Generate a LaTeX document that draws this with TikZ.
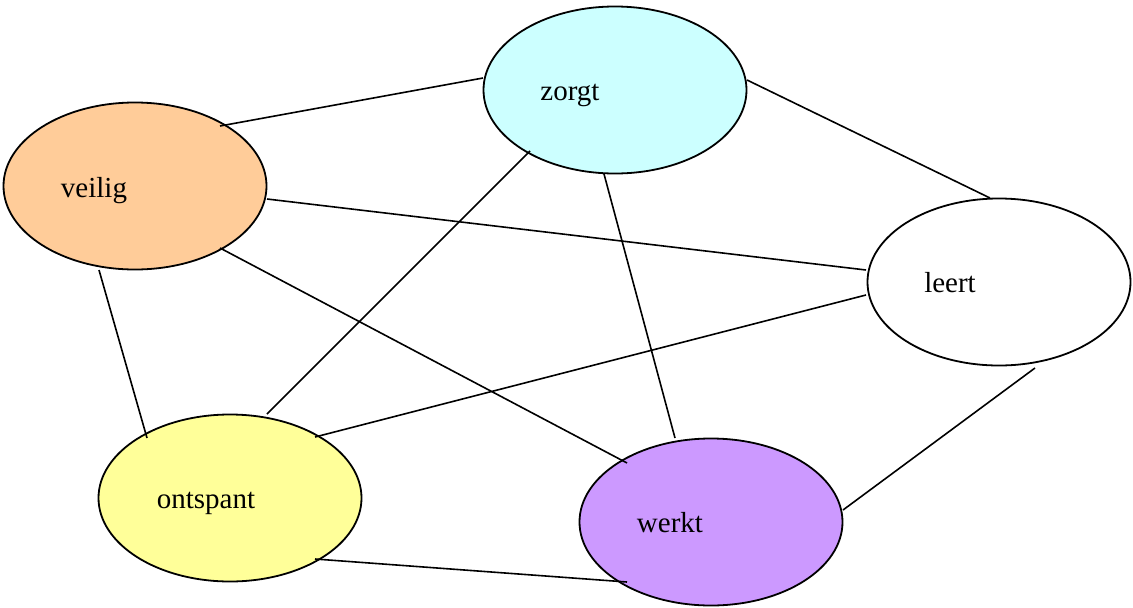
\documentclass[tikz,border=0pt]{standalone}
\usepackage{fontspec}
\setmainfont{Liberation Serif}
\usetikzlibrary{shapes.geometric,calc}
\definecolor{cyanfill}{HTML}{CCFFFF}
\definecolor{orangefill}{HTML}{FFCC99}
\definecolor{yellowfill}{HTML}{FFFF99}
\definecolor{purplefill}{HTML}{CC99FF}
\begin{document}
\begin{tikzpicture}[x=1pt,y=-1pt,
  blob/.style={ellipse,draw=black,line width=1.8pt,inner sep=0pt,minimum width=263pt,minimum height=167pt},
  word/.style={anchor=base,inner sep=0pt,font=\fontsize{29}{35}\selectfont},
  link/.style={draw=black,line width=1.6pt}]
\useasboundingbox (0,0) rectangle (1133,608);
\node[blob,fill=cyanfill]   (zorgt)    at (615,90)  {};
\node[blob,fill=orangefill] (veilig)   at (135,186) {};
\node[blob,fill=white]      (leert)    at (999,282) {};
\node[blob,fill=yellowfill] (ontspant) at (230,498) {};
\node[blob,fill=purplefill] (werkt)    at (711,522) {};
\node[word] (tzorgt)    at (570,100) {zorgt};
\node[word] (tveilig)   at (94,197)  {veilig};
\node[word] (tleert)    at (950,292) {leert};
\node[word] (tontspant) at (206,508) {ontspant};
\node[word] (twerkt)    at (670,532) {werkt};
\draw[link] ($(veilig.center)+(85,-60)$) -- ($(zorgt.center)+(-132,-12)$);
\draw[link] ($(zorgt.center)+(132,-10)$) -- ($(leert.center)+(-9,-84)$);
\draw[link] ($(veilig.center)+(132,13)$) -- ($(leert.center)+(-133,-12)$);
\draw[link] ($(zorgt.center)+(-85,61)$) -- ($(ontspant.center)+(37,-84)$);
\draw[link] ($(zorgt.center)+(-11,84)$) -- ($(werkt.center)+(-36,-84)$);
\draw[link] ($(veilig.center)+(85,62)$) -- ($(werkt.center)+(-84,-59)$);
\draw[link] ($(veilig.center)+(-36,84)$) -- ($(ontspant.center)+(-83,-60)$);
\draw[link] ($(leert.center)+(-133,13)$) -- ($(ontspant.center)+(85,-61)$);
\draw[link] ($(leert.center)+(36,86)$) -- ($(werkt.center)+(132,-12)$);
\draw[link] ($(ontspant.center)+(85,61)$) -- ($(werkt.center)+(-84,60)$);
\end{tikzpicture}
\end{document}
